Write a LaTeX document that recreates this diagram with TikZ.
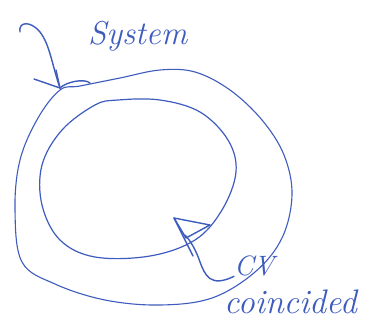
\documentclass[tikz,border=0pt]{standalone}
\usetikzlibrary{arrows.meta}
\definecolor{pen}{RGB}{62,92,190}
\begin{document}
\begin{tikzpicture}[x=1pt,y=-1pt,
  ink/.style={draw=pen,line width=1.4pt,line cap=round,line join=round},
  hand/.style={text=pen,font=\itshape,inner sep=0pt}]
\useasboundingbox[fill=white] (0,0) rectangle (383,322);
% labels
\node[hand,font=\itshape\fontsize{33}{33}\selectfont,anchor=west] (sys) at (88,36) {System};
\node[hand,font=\itshape\fontsize{28}{28}\selectfont,anchor=west] (cv) at (234,266) {CV};
\node[hand,font=\itshape\fontsize{34}{34}\selectfont,anchor=west] (coin) at (224,302) {coincided};
% outer loop (system boundary)
\draw[ink,line width=1.1pt] plot[smooth cycle,tension=0.6] coordinates{
 (80,86) (120,78) (160,70) (195,72) (230,90) (262,120) (284,155) (292,195)
 (282,238) (255,272) (212,298) (160,305) (105,300) (55,284) (22,262) (15,210)
 (20,160) (38,118) (60,90)};
\coordinate (ptS) at (60,88);
% inner loop (control volume)
\draw[ink,line width=1.2pt] plot[smooth cycle,tension=0.6] coordinates{
 (118,100) (160,100) (200,112) (228,140) (236,172) (222,210) (195,240)
 (150,256) (95,257) (60,240) (42,205) (42,165) (62,130) (95,105)};
\coordinate (ptC) at (210,225);
% pointer: System
\coordinate (s0) at (20,32);
\draw[ink] (s0) .. controls (18,22) and (30,20) .. (40,32)
  .. controls (50,45) and (52,65) .. (ptS);
\draw[ink] (ptS) -- (34,79);
\draw[ink] (ptS) -- (56,70);
\draw[ink] (ptS) .. controls (66,82) and (84,78) .. (90,83);
% pointer: CV (open triangle head)
\draw[ink] (cv.south west) .. controls (210,288) and (205,275) .. (200,262)
  .. controls (196,250) and (190,240) .. (185,235);
\draw[ink] (174,218) -- (ptC) -- (186,238) -- cycle;
\draw[ink] (174,218) -- (193,256);
\end{tikzpicture}
\end{document}
